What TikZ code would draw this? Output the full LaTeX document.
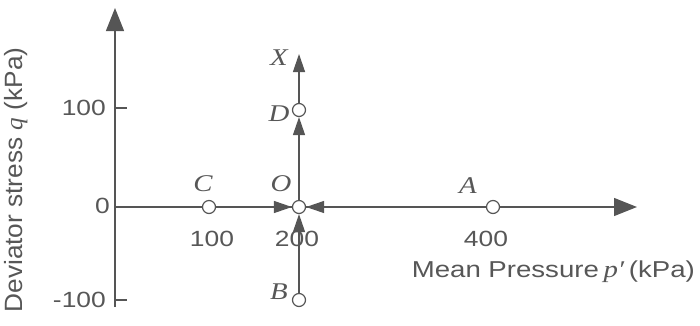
\documentclass[tikz,border=0pt]{standalone}
\usepackage{fontspec}
\setmainfont{Liberation Sans}
\newfontfamily\serifit{Liberation Serif}
\usetikzlibrary{arrows.meta}
\definecolor{ln}{HTML}{555555}
\definecolor{tx}{HTML}{575757}
\newcommand\wide[1]{\scalebox{1.2}[1]{#1}}
\newcommand\ivar[1]{{\fontsize{24}{28}\selectfont\serifit\itshape #1}}
\tikzset{
  axisline/.style={draw=ln, line width=1.3pt},
  bigtip/.style={-{Triangle[length=23pt,width=18pt]}},
  smalltip/.style={-{Triangle[length=18pt,width=12pt]}},
  pt/.style={circle, draw=ln, fill=white, line width=1.2pt, minimum size=13pt, inner sep=0pt},
  lbl/.style={text=tx, font=\fontsize{22}{26}\selectfont, inner sep=0pt},
}
\begin{document}
\begin{tikzpicture}[x=1pt,y=-1pt]
\useasboundingbox (0,0) rectangle (700,325);
% axes
\coordinate (orig) at (115,207);
\coordinate (ybot) at (115,307);
\coordinate (ytop) at (115,8);
\coordinate (xend) at (637,207);
\draw[axisline, bigtip, fill=ln] (ybot) -- (ytop);
\draw[axisline, bigtip, fill=ln] (orig) -- (xend);
\coordinate (t100a) at (115,108); \coordinate (t100b) at (127,108);
\coordinate (tm100a) at (115,300); \coordinate (tm100b) at (127,300);
\draw[axisline] (t100a) -- (t100b);
\draw[axisline] (tm100a) -- (tm100b);
% points
\node[pt] (C) at (209,207) {};
\node[pt] (O) at (299,207) {};
\node[pt] (A) at (493,207) {};
\node[pt] (D) at (299,110) {};
\node[pt] (B) at (299,300) {};
\coordinate (X) at (299,54);
% paths
\draw[axisline, smalltip, fill=ln] (C) -- (O);
\draw[axisline, smalltip, fill=ln] (A) -- (O);
\draw[axisline, smalltip, fill=ln] (B) -- (O);
\draw[axisline, smalltip, fill=ln] (O) -- (D);
\draw[axisline, smalltip, fill=ln] (D) -- (X);
% point labels
\node[lbl] (lC) at (203,184) {\wide{\ivar{C}}};
\node[lbl] (lO) at (281,184) {\wide{\ivar{O}}};
\node[lbl] (lA) at (468,186) {\wide{\ivar{A}}};
\node[lbl] (lX) at (279,58) {\wide{\ivar{X}}};
\node[lbl] (lD) at (279,114) {\wide{\ivar{D}}};
\node[lbl] (lB) at (279,292) {\wide{\ivar{B}}};
% tick labels
\node[lbl] (n100) at (212,239) {\wide{100}};
\node[lbl] (n200) at (297,239) {\wide{200}};
\node[lbl] (n400) at (486,239) {\wide{400}};
\node[lbl, anchor=east] (q100) at (106,108) {\wide{100}};
\node[lbl, anchor=east] (q0) at (110,206) {\wide{0}};
\node[lbl, anchor=east] (qm100) at (106,300) {\wide{-100}};
% axis titles
\node[lbl, anchor=east, font=\fontsize{23}{27}\selectfont] (xt) at (695,272) {\wide{Mean Pressure\,\ivar{p′}\,(kPa)}};
\node[lbl, rotate=90, font=\fontsize{25}{29}\selectfont] (yt) at (16,180) {\scalebox{1.05}[1]{Deviator stress \ivar{q} (kPa)}};
\end{tikzpicture}
\end{document}
